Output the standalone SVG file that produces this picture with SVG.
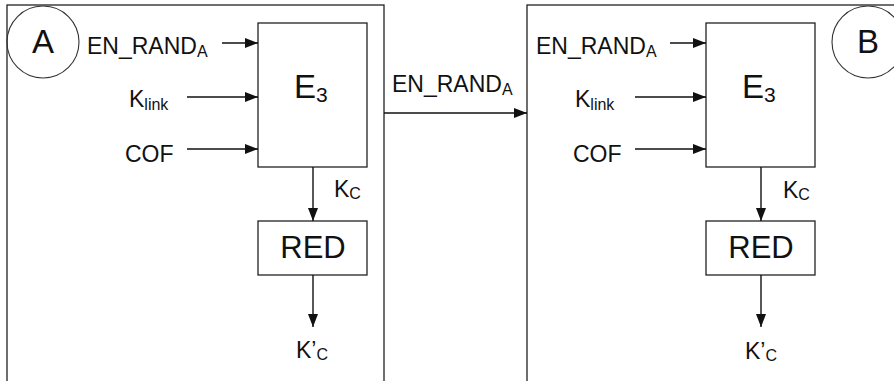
<svg xmlns="http://www.w3.org/2000/svg" width="894" height="381" viewBox="0 0 894 381">
<style>
.box{fill:none;stroke:#222;stroke-width:1.3}
.circ{fill:none;stroke:#333;stroke-width:1.1}
.ln{fill:none;stroke:#111;stroke-width:1.4}
text{font-family:"Liberation Sans",Arial,sans-serif;fill:#111}
.lbl{font-size:23px}
.sub{font-size:16px}
.big{font-size:33px}
.blk{font-size:31px}
</style>
<defs>
<marker id="ah" markerUnits="userSpaceOnUse" markerWidth="13" markerHeight="11" refX="13" refY="5.5" orient="auto">
<path d="M0,0.5 L13,5.5 L0,10.5 z" fill="#111"/>
</marker>
</defs>
<rect width="894" height="381" fill="#fff"/>

<g id="entityA">
<rect class="box" x="7" y="5" width="377" height="400"/>
<circle class="circ" cx="43" cy="42" r="36"/>
<text class="big" x="43" y="53" text-anchor="middle">A</text>
</g>
<g id="entityB">
<rect class="box" x="527" y="5" width="400" height="400"/>
<circle class="circ" cx="868" cy="42" r="36"/>
<text class="big" x="868" y="53" text-anchor="middle">B</text>
</g>

<g id="inputsA">
<text class="lbl" x="87" y="54">EN_RAND<tspan class="sub" dy="3">A</tspan></text>
<text class="lbl" x="129" y="107">K<tspan class="sub" dy="3">link</tspan></text>
<text class="lbl" x="125" y="162">COF</text>
</g>
<g id="E3A">
<rect class="box" x="258" y="23" width="109" height="144"/>
<text class="big" x="294" y="98">E<tspan font-size="21" dy="4">3</tspan></text>
</g>
<g id="REDA">
<rect class="box" x="258" y="221" width="109" height="54"/>
<text class="blk" x="313" y="258" text-anchor="middle">RED</text>
</g>
<g id="labelsA">
<text class="lbl" x="334" y="197">K<tspan class="sub" dy="2">C</tspan></text>
<text class="lbl" x="296" y="358">K’<tspan class="sub" dy="2">C</tspan></text>
</g>

<g id="inputsB">
<text class="lbl" x="536" y="54">EN_RAND<tspan class="sub" dy="3">A</tspan></text>
<text class="lbl" x="575" y="107">K<tspan class="sub" dy="3">link</tspan></text>
<text class="lbl" x="573" y="162">COF</text>
</g>
<g id="E3B">
<rect class="box" x="706" y="23" width="109" height="144"/>
<text class="big" x="742" y="98">E<tspan font-size="21" dy="4">3</tspan></text>
</g>
<g id="REDB">
<rect class="box" x="706" y="221" width="109" height="54"/>
<text class="blk" x="761" y="258" text-anchor="middle">RED</text>
</g>
<g id="labelsB">
<text class="lbl" x="783" y="198">K<tspan class="sub" dy="2">C</tspan></text>
<text class="lbl" x="745" y="359">K’<tspan class="sub" dy="2">C</tspan></text>
</g>

<g id="midLabel">
<text class="lbl" x="392" y="92">EN_RAND<tspan class="sub" dy="3">A</tspan></text>
</g>

<g id="connectors">
<line class="ln" x1="222" y1="43" x2="258" y2="43" marker-end="url(#ah)"/>
<line class="ln" x1="187" y1="97" x2="258" y2="97" marker-end="url(#ah)"/>
<line class="ln" x1="187" y1="149" x2="258" y2="149" marker-end="url(#ah)"/>
<line class="ln" x1="313" y1="167" x2="313" y2="221" marker-end="url(#ah)"/>
<line class="ln" x1="313" y1="275" x2="313" y2="327" marker-end="url(#ah)"/>
<line class="ln" x1="670" y1="43" x2="706" y2="43" marker-end="url(#ah)"/>
<line class="ln" x1="635" y1="97" x2="706" y2="97" marker-end="url(#ah)"/>
<line class="ln" x1="635" y1="149" x2="706" y2="149" marker-end="url(#ah)"/>
<line class="ln" x1="761" y1="167" x2="761" y2="221" marker-end="url(#ah)"/>
<line class="ln" x1="761" y1="275" x2="761" y2="327" marker-end="url(#ah)"/>
<line class="ln" x1="384" y1="113" x2="527" y2="113" marker-end="url(#ah)"/>
</g>
</svg>
